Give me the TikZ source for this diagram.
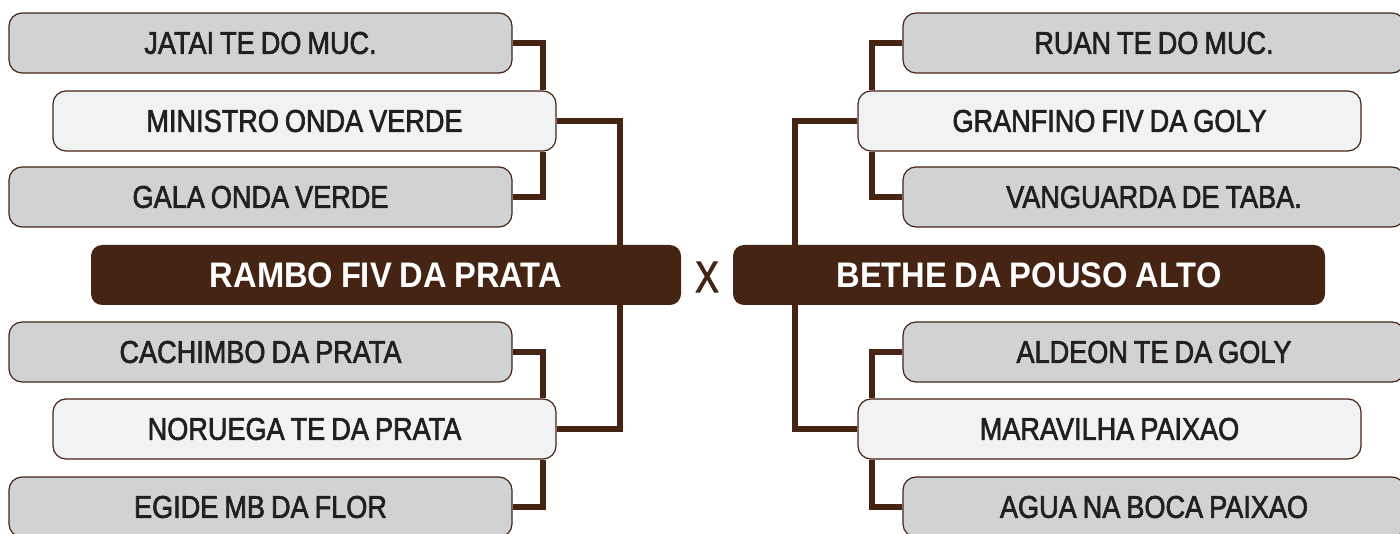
\documentclass[tikz,border=0pt]{standalone}
\usepackage{fontspec}
\setmainfont{Liberation Sans}
\newfontfamily\boxfont{Liberation Sans}[FakeStretch=0.86,FakeBold=2,WordSpace=0.8]
\newfontfamily\mainfont{Liberation Sans}[FakeStretch=0.92,UprightFont=*,BoldFont=* Bold,WordSpace=0.85]
\newfontfamily\xfont{Liberation Sans}[FakeStretch=0.8,FakeBold=2]
\definecolor{brn}{RGB}{69,36,20}
\definecolor{boxgray}{RGB}{209,210,212}
\definecolor{boxlight}{RGB}{241,242,243}
\definecolor{txt}{RGB}{35,31,32}
\begin{document}
\begin{tikzpicture}[x=1pt,y=-1pt,
  gbox/.style={draw=brn, line width=1.2pt, fill=boxgray, rounded corners=13pt,
    minimum width=503pt, minimum height=60pt, inner sep=0pt, text=txt,
    font=\boxfont\fontsize{31.5}{31.5}\selectfont},
  lbox/.style={gbox, fill=boxlight},
  mbox/.style={fill=brn, rounded corners=11pt, minimum width=590pt,
    minimum height=60pt, inner sep=0pt, text=white,
    font=\mainfont\bfseries\fontsize{35.5}{35.5}\selectfont},
  conn/.style={draw=brn, line width=5.5pt}]
\useasboundingbox (0,0) rectangle (1400,534);
\clip (0,0) rectangle (1400,534);
% guide coordinates for connector columns
\coordinate (cl1) at (543,0);
\coordinate (cl2) at (620,0);
\coordinate (cr1) at (872,0);
\coordinate (cr2) at (795,0);
\path (260.5,43) node[gbox] (J) {JATAI TE DO MUC.};
\path (304.5,121) node[lbox] (M) {MINISTRO ONDA VERDE};
\path (260.5,197) node[gbox] (G) {GALA ONDA VERDE};
\path (386,275) node[mbox] (R) {RAMBO FIV DA PRATA};
\path (260.5,352) node[gbox] (C) {CACHIMBO DA PRATA};
\path (304.5,429) node[lbox] (N) {NORUEGA TE DA PRATA};
\path (260.5,507) node[gbox] (E) {EGIDE MB DA FLOR};
\path (707,277) node[text=brn, font=\xfont\fontsize{44}{44}\selectfont, inner sep=0pt] (X) {X};
\path (1154,43) node[gbox, minimum width=502pt] (RU) {RUAN TE DO MUC.};
\path (1109.5,121) node[lbox] (GR) {GRANFINO FIV DA GOLY};
\path (1154,197) node[gbox, minimum width=502pt] (VA) {VANGUARDA DE TABA.};
\path (1029,275) node[mbox, minimum width=592pt] (B) {BETHE DA POUSO ALTO};
\path (1154,352) node[gbox, minimum width=502pt] (AL) {ALDEON TE DA GOLY};
\path (1109.5,429) node[lbox] (MA) {MARAVILHA PAIXAO};
\path (1154,507) node[gbox, minimum width=502pt] (AG) {AGUA NA BOCA PAIXAO};
% left connectors
\draw[conn] (J.east) -| (M.north -| cl1);
\draw[conn] (G.east) -| (M.south -| cl1);
\draw[conn] (M.east) -| (R.north -| cl2);
\draw[conn] (R.south -| cl2) |- (N.east);
\draw[conn] (C.east) -| (N.north -| cl1);
\draw[conn] (E.east) -| (N.south -| cl1);
% right connectors
\draw[conn] (RU.west) -| (GR.north -| cr1);
\draw[conn] (VA.west) -| (GR.south -| cr1);
\draw[conn] (GR.west) -| (B.north -| cr2);
\draw[conn] (B.south -| cr2) |- (MA.west);
\draw[conn] (AL.west) -| (MA.north -| cr1);
\draw[conn] (AG.west) -| (MA.south -| cr1);
\end{tikzpicture}
\end{document}
